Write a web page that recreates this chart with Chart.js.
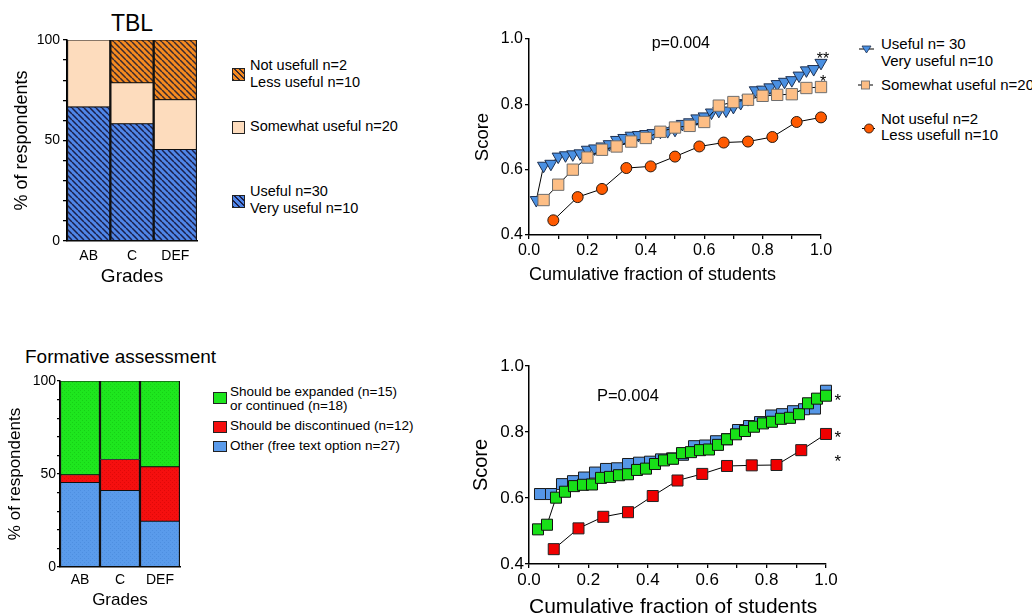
<!DOCTYPE html>
<html>
<head>
<meta charset="utf-8">
<title>TBL and formative assessment</title>
<script src="https://cdn.jsdelivr.net/npm/chart.js@4.4.1/dist/chart.umd.min.js"></script>
<style>
  html, body { margin: 0; padding: 0; background: #fff; }
  body {
    width: 1032px; height: 614px; overflow: hidden; position: relative;
    font-family: "Liberation Sans", Arial, sans-serif; color: #000;
  }
  .panel { position: absolute; }
  .txt { position: absolute; white-space: nowrap; }
  .sw { position: absolute; box-sizing: border-box; border: 1px solid #222; }
  .hatch-blue { background: repeating-linear-gradient(45deg, #1b1f4a 0 1.4px, #4f86e8 1.4px 4px); }
  .hatch-orange { background: repeating-linear-gradient(45deg, #3a2a30 0 1.4px, #f58a1f 1.4px 4px); }
</style>
</head>
<body>

<!-- titles -->
<div class="txt" style="left:82px; width:100px; text-align:center; top:9px; font-size:23px; line-height:28px;">TBL</div>
<div class="txt" style="left:25px; top:346px; font-size:19px; line-height:22px;">Formative assessment</div>

<!-- chart canvases -->
<canvas id="tbl-bars" class="panel" style="left:0; top:0;" width="230" height="290"></canvas>
<canvas id="tbl-cum" class="panel" style="left:460px; top:0;" width="380" height="290"></canvas>
<canvas id="fa-bars" class="panel" style="left:0; top:330px;" width="200" height="284"></canvas>
<canvas id="fa-cum" class="panel" style="left:460px; top:330px;" width="390" height="290"></canvas>

<!-- legend: TBL bars -->
<div class="sw hatch-orange" style="left:232px; top:68px; width:13px; height:13px;"></div>
<div class="txt" style="left:250px; top:57px; font-size:14.5px; line-height:17px;">Not usefull n=2<br>Less useful n=10</div>
<div class="sw" style="left:232px; top:121px; width:13px; height:13px; background:#fddcbd;"></div>
<div class="txt" style="left:250px; top:118px; font-size:14.5px; line-height:17px;">Somewhat useful n=20</div>
<div class="sw hatch-blue" style="left:232px; top:195px; width:13px; height:13px;"></div>
<div class="txt" style="left:250px; top:183px; font-size:14.5px; line-height:17px;">Useful n=30<br>Very useful n=10</div>

<!-- legend: TBL cumulative -->
<svg class="panel" style="left:856px; top:42px;" width="22" height="16">
  <line x1="3" y1="7" x2="18" y2="7" stroke="#000" stroke-width="1"/>
  <polygon points="6,4 15,4 10.5,11" fill="#4a90e2" stroke="#1e3050" stroke-width="0.8"/>
</svg>
<div class="txt" style="left:881px; top:36px; font-size:15px; line-height:16.8px;">Useful n= 30<br>Very useful n=10</div>
<svg class="panel" style="left:856px; top:77px;" width="22" height="16">
  <line x1="2" y1="8" x2="17" y2="8" stroke="#000" stroke-width="1"/>
  <rect x="5.5" y="4" width="8" height="8" fill="#fdbe85" stroke="#6e6e6e" stroke-width="0.9"/>
</svg>
<div class="txt" style="left:881px; top:77px; font-size:15px; line-height:16.8px;">Somewhat useful n=20</div>
<svg class="panel" style="left:856px; top:120px;" width="22" height="16">
  <line x1="6" y1="8.5" x2="19" y2="8.5" stroke="#000" stroke-width="1"/>
  <circle cx="13" cy="8.5" r="4.5" fill="#ff5a00" stroke="#2a1a10" stroke-width="0.9"/>
</svg>
<div class="txt" style="left:881px; top:111px; font-size:15px; line-height:16.4px;">Not useful n=2<br>Less usefull n=10</div>

<!-- legend: formative assessment bars -->
<div class="sw" style="left:213px; top:392px; width:14px; height:12px; background:#1ee61e;"></div>
<div class="txt" style="left:230px; top:385px; font-size:13.5px; line-height:14px;">Should be expanded (n=15)<br>or continued (n=18)</div>
<div class="sw" style="left:213px; top:421px; width:14px; height:12px; background:#f50f0f;"></div>
<div class="txt" style="left:230px; top:419px; font-size:13.5px; line-height:14px;">Should be discontinued (n=12)</div>
<div class="sw" style="left:213px; top:441px; width:14px; height:11px; background:#5a9beb;"></div>
<div class="txt" style="left:230px; top:439px; font-size:13.5px; line-height:14px;">Other (free text option n=27)</div>

<script>
// ---- DATA ----
const GRADES = ['AB', 'C', 'DEF'];

// TBL, % of respondents per grade group
const TBL_USEFUL = [66.7, 58.3, 45.5];
const TBL_SOMEWHAT = [33.3, 20.4, 24.8];
const TBL_NOT_USEFUL = [0, 21.3, 29.7];

// Formative assessment, % of respondents per grade group
const FA_OTHER = [45.4, 41.1, 24.6];
const FA_DISCONTINUED = [4.2, 16.7, 29.3];
const FA_EXPANDED = [50.4, 42.2, 46.1];

// TBL scores, sorted (cumulative distribution)
const SCORE_USEFUL = [
  0.507, 0.612, 0.618, 0.640, 0.644, 0.647, 0.650, 0.661, 0.665, 0.671,
  0.678, 0.691, 0.697, 0.704, 0.706, 0.709, 0.712, 0.716, 0.718, 0.722,
  0.740, 0.745, 0.757, 0.763, 0.775, 0.780, 0.781, 0.792, 0.804, 0.816,
  0.843, 0.845, 0.852, 0.862, 0.869, 0.874, 0.888, 0.904, 0.908, 0.927,
];
const SCORE_SOMEWHAT = [
  0.507, 0.554, 0.600, 0.637, 0.661, 0.671, 0.686, 0.697, 0.716, 0.729,
  0.734, 0.746, 0.796, 0.807, 0.814, 0.826, 0.829, 0.831, 0.850, 0.853,
];
const SCORE_NOT_USEFUL = [
  0.445, 0.516, 0.541, 0.605, 0.610, 0.640, 0.671, 0.683, 0.686, 0.700, 0.746, 0.760,
];

// Formative assessment scores, sorted
const SCORE_FA_EXPANDED = [
  0.505, 0.519, 0.601, 0.619, 0.636, 0.640, 0.641, 0.661, 0.664, 0.669, 0.672,
  0.685, 0.689, 0.703, 0.714, 0.719, 0.736, 0.739, 0.745, 0.747, 0.761, 0.778,
  0.793, 0.803, 0.816, 0.826, 0.831, 0.840, 0.843, 0.854, 0.887, 0.901, 0.910,
];
const SCORE_FA_OTHER = [
  0.612, 0.612, 0.642, 0.651, 0.662, 0.677, 0.688, 0.690, 0.703, 0.707,
  0.710, 0.717, 0.720, 0.731, 0.757, 0.759, 0.772, 0.778, 0.806, 0.818,
  0.830, 0.850, 0.854, 0.863, 0.869, 0.871, 0.925,
];
const SCORE_FA_DISCONTINUED = [
  0.445, 0.508, 0.543, 0.557, 0.606, 0.653, 0.673, 0.697, 0.699, 0.700, 0.745, 0.794,
];

const FONT = '"Liberation Sans", Arial, sans-serif';

// ---- HELPERS ----
Chart.defaults.font.family = FONT;
Chart.defaults.color = '#000';
Chart.defaults.animation = false;
Chart.defaults.plugins.legend.display = false;
Chart.defaults.plugins.tooltip.enabled = false;

// cumulative fraction of students: i-th sorted score sits at i/n
function cumulative(scores) {
  return scores.map((v, i) => ({ x: (i + 1) / scores.length, y: v }));
}

function hatch(bg, fg) {
  const c = document.createElement('canvas');
  c.width = c.height = 6;
  const g = c.getContext('2d');
  g.fillStyle = bg;
  g.fillRect(0, 0, 6, 6);
  g.strokeStyle = fg;
  g.lineWidth = 1.5;
  g.beginPath();
  [-6, 0, 6].forEach(o => { g.moveTo(o, 0); g.lineTo(o + 6, 6); });
  g.stroke();
  return g.createPattern(c, 'repeat');
}

function stipple(bg, fg) {
  const c = document.createElement('canvas');
  c.width = c.height = 4;
  const g = c.getContext('2d');
  g.fillStyle = bg;
  g.fillRect(0, 0, 4, 4);
  g.fillStyle = fg;
  g.fillRect(0, 0, 1, 1);
  g.fillRect(2, 2, 1, 1);
  return g.createPattern(c, 'repeat');
}

// small text notes (p values, asterisks) placed in data coordinates
const textNotes = {
  id: 'textNotes',
  afterDatasetsDraw(chart, args, opts) {
    const { ctx, scales: { x, y } } = chart;
    ctx.save();
    (opts.items || []).forEach(n => {
      ctx.font = `${n.size}px ${FONT}`;
      ctx.fillStyle = '#000';
      ctx.textAlign = 'center';
      ctx.textBaseline = 'middle';
      ctx.fillText(n.text, x.getPixelForValue(n.x), y.getPixelForValue(n.y));
    });
    ctx.restore();
  },
};

const BORDER = { color: '#000', width: 1.5 };

function barChart(id, cfg) {
  const ctx = document.getElementById(id).getContext('2d');
  return new Chart(ctx, {
    type: 'bar',
    data: {
      labels: GRADES,
      datasets: cfg.series.map(s => ({
        data: s.data,
        backgroundColor: s.fill,
        borderColor: '#111',
        borderWidth: { left: 1.5, right: 1.5, top: 0.8, bottom: 0.8 },
        borderSkipped: false,
        barPercentage: 1,
        categoryPercentage: 1,
      })),
    },
    options: {
      responsive: false,
      layout: { padding: cfg.padding },
      scales: {
        x: {
          stacked: true,
          grid: { display: false, drawTicks: false },
          border: BORDER,
          ticks: { font: { size: 14 }, padding: cfg.xTickPad },
          title: {
            display: true, text: 'Grades',
            font: { size: cfg.xTitleSize }, padding: { top: 0, bottom: cfg.xTitlePad },
          },
          afterFit(s) { s.height = cfg.xHeight; },
        },
        y: {
          stacked: true,
          min: 0,
          max: 100,
          grid: { drawOnChartArea: false, tickLength: cfg.yTickLen, color: '#000', lineWidth: 1.3 },
          border: BORDER,
          ticks: {
            stepSize: 10, autoSkip: false, padding: cfg.yTickPad, font: { size: 14 },
            callback: v => (v % 50 === 0 ? v : ''),
          },
          title: {
            display: true, text: '% of respondents',
            font: { size: cfg.yTitleSize }, padding: { top: cfg.yTitlePad, bottom: 0 },
          },
          afterFit(s) { s.width = cfg.yWidth; },
        },
      },
    },
  });
}

function cumChart(id, cfg) {
  const ctx = document.getElementById(id).getContext('2d');
  return new Chart(ctx, {
    type: 'scatter',
    data: {
      datasets: cfg.series.map(s => ({
        data: cumulative(s.data),
        showLine: true,
        borderColor: '#000',
        borderWidth: 1,
        pointStyle: s.style,
        pointRotation: s.rotation || 0,
        pointRadius: s.radius,
        pointBackgroundColor: s.fill,
        pointBorderColor: s.edge,
        pointBorderWidth: 1,
        clip: false,
      })),
    },
    plugins: [textNotes],
    options: {
      responsive: false,
      layout: { padding: cfg.padding },
      plugins: { textNotes: { items: cfg.notes } },
      scales: {
        x: {
          type: 'linear', min: 0, max: 1,
          grid: { drawOnChartArea: false, tickLength: 4, color: '#000', lineWidth: 1.3 },
          border: BORDER,
          ticks: {
            stepSize: 0.1, autoSkip: false, maxRotation: 0, padding: 2,
            font: { size: cfg.tickSize },
            callback: (v, i) => (i % 2 === 0 ? v.toFixed(1) : ''),
          },
          title: {
            display: true, text: 'Cumulative fraction of students', align: 'start',
            font: { size: cfg.xTitleSize }, padding: { top: 0, bottom: cfg.xTitlePad },
          },
          afterFit(s) { s.height = cfg.xHeight; },
        },
        y: {
          min: 0.4, max: 1.0,
          grid: { drawOnChartArea: false, tickLength: 4, color: '#000', lineWidth: 1.3 },
          border: BORDER,
          ticks: {
            stepSize: 0.2, autoSkip: false, padding: cfg.yTickPad,
            font: { size: cfg.tickSize },
            callback: v => v.toFixed(1),
          },
          title: {
            display: true, text: 'Score',
            font: { size: cfg.yTitleSize }, padding: { top: cfg.yTitlePad, bottom: 0 },
          },
          afterFit(s) { s.width = cfg.yWidth; },
        },
      },
    },
  });
}

// ---- CHARTS ----
barChart('tbl-bars', {
  padding: { left: 0, top: 40, right: 33, bottom: 0 },
  series: [
    { data: TBL_USEFUL, fill: hatch('#4f86e8', '#1b1f4a') },
    { data: TBL_SOMEWHAT, fill: '#fddcbd' },
    { data: TBL_NOT_USEFUL, fill: hatch('#f58a1f', '#3a2a30') },
  ],
  xHeight: 49, xTickPad: 7, xTitleSize: 19, xTitlePad: 1.5,
  yWidth: 67, yTickLen: 4, yTickPad: 3, yTitleSize: 18, yTitlePad: 11,
});

barChart('fa-bars', {
  padding: { left: 0, top: 51, right: 20, bottom: 0 },
  series: [
    { data: FA_OTHER, fill: stipple('#5a9beb', '#4e8fe0') },
    { data: FA_DISCONTINUED, fill: stipple('#f50f0f', '#e00808') },
    { data: FA_EXPANDED, fill: stipple('#1ee61e', '#16d016') },
  ],
  xHeight: 47, xTickPad: 4.5, xTitleSize: 17, xTitlePad: 3.8,
  yWidth: 60, yTickLen: 3, yTickPad: 1, yTitleSize: 17, yTitlePad: 5,
});

cumChart('tbl-cum', {
  padding: { left: 0, top: 39, right: 19, bottom: 0 },
  series: [
    { data: SCORE_SOMEWHAT, style: 'rect', radius: 8, fill: '#fdbe85', edge: '#6e6e6e' },
    { data: SCORE_USEFUL, style: 'triangle', rotation: 180, radius: 7, fill: '#4a90e2', edge: '#1e3050' },
    { data: SCORE_NOT_USEFUL, style: 'circle', radius: 5.5, fill: '#ff5a00', edge: '#2a1a10' },
  ],
  notes: [
    { text: 'p=0.004', x: 0.52, y: 0.985, size: 16 },
    { text: '**', x: 1.007, y: 0.936, size: 16 },
    { text: '*', x: 1.007, y: 0.868, size: 16 },
  ],
  tickSize: 16, xHeight: 55, xTitleSize: 18, xTitlePad: 4,
  yWidth: 69, yTickPad: 2, yTitleSize: 18.5, yTitlePad: 12,
});

cumChart('fa-cum', {
  padding: { left: 0, top: 36, right: 24, bottom: 0 },
  series: [
    { data: SCORE_FA_EXPANDED, style: 'rect', radius: 7.8, fill: '#18e018', edge: '#111' },
    { data: SCORE_FA_OTHER, style: 'rect', radius: 7.8, fill: '#5596e6', edge: '#1a1a1a' },
    { data: SCORE_FA_DISCONTINUED, style: 'rect', radius: 7.8, fill: '#f00000', edge: '#222' },
  ],
  notes: [
    { text: 'P=0.004', x: 0.333, y: 0.909, size: 16.5 },
    { text: '*', x: 1.04, y: 0.894, size: 17 },
    { text: '*', x: 1.04, y: 0.782, size: 17 },
    { text: '*', x: 1.04, y: 0.709, size: 17 },
  ],
  tickSize: 17, xHeight: 56, xTitleSize: 21, xTitlePad: 0,
  yWidth: 69, yTickPad: 1, yTitleSize: 20, yTitlePad: 9.7,
});
</script>
</body>
</html>
